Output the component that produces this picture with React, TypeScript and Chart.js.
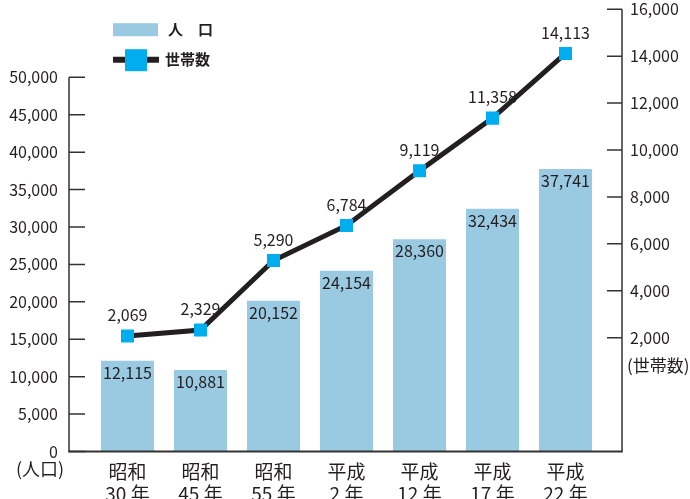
import React, { useEffect, useRef } from "react";
import { Chart, registerables } from "chart.js";

Chart.register(...registerables);

const categories: string[][] = [
  ["昭和", "30 年"],
  ["昭和", "45 年"],
  ["昭和", "55 年"],
  ["平成", "2 年"],
  ["平成", "12 年"],
  ["平成", "17 年"],
  ["平成", "22 年"],
];
const population = [12115, 10881, 20152, 24154, 28360, 32434, 37741];
const households = [2069, 2329, 5290, 6784, 9119, 11358, 14113];
const leftTicks = [0, 5000, 10000, 15000, 20000, 25000, 30000, 35000, 40000, 45000, 50000];
const rightTicks = [2000, 4000, 6000, 8000, 10000, 12000, 14000, 16000];
const seriesNames = ["人　口", "世帯数"];
const axisNames = ["(人口)", "(世帯数)"];

const FONT = "'Noto Sans CJK JP', 'Noto Sans', sans-serif";
const TEXT = "#231f20";
const AXIS = "#333333";
const BAR = "#99cae2";
const MARK = "#00aeef";
const LINE = "#231f20";

const fmt = (v: number) => v.toLocaleString("en-US");

const decorPlugin = {
  id: "decor",
  afterDatasetsDraw(chart: any) {
    const ctx = chart.ctx;
    ctx.save();
    ctx.fillStyle = TEXT;
    ctx.font = `16px ${FONT}`;
    ctx.textAlign = "center";
    ctx.textBaseline = "middle";
    const barMeta = chart.getDatasetMeta(0);
    barMeta.data.forEach((el: any, i: number) => {
      ctx.fillText(fmt(population[i]), el.x, el.y + 12);
    });
    const lineMeta = chart.getDatasetMeta(1);
    lineMeta.data.forEach((el: any, i: number) => {
      ctx.fillText(fmt(households[i]), el.x, el.y - 21);
    });
    ctx.restore();
  },
  afterDraw(chart: any) {
    const ctx = chart.ctx;
    const area = chart.chartArea;
    const y = chart.scales.y;
    const y1 = chart.scales.y1;
    const lx = area.left - 22;
    const rx = area.right + 20;
    const bottom = area.bottom;
    ctx.save();
    ctx.strokeStyle = AXIS;
    // left axis
    ctx.lineWidth = 1.5;
    ctx.beginPath();
    ctx.moveTo(lx, y.getPixelForValue(leftTicks[leftTicks.length - 1]));
    ctx.lineTo(lx, bottom);
    leftTicks.forEach((v) => {
      const py = y.getPixelForValue(v);
      ctx.moveTo(lx, py);
      ctx.lineTo(lx + 16, py);
    });
    // right axis
    ctx.moveTo(rx, y1.getPixelForValue(rightTicks[rightTicks.length - 1]));
    ctx.lineTo(rx, bottom);
    rightTicks.forEach((v) => {
      const py = y1.getPixelForValue(v);
      ctx.moveTo(rx, py);
      ctx.lineTo(rx - 15, py);
    });
    ctx.stroke();
    // bottom axis
    ctx.lineWidth = 2;
    ctx.beginPath();
    ctx.moveTo(lx - 0.75, bottom);
    ctx.lineTo(rx + 0.75, bottom);
    ctx.stroke();

    // axis unit labels
    ctx.fillStyle = TEXT;
    ctx.textBaseline = "middle";
    ctx.font = `18px ${FONT}`;
    ctx.textAlign = "center";
    ctx.fillText(axisNames[0], 40, bottom + 18);
    ctx.font = `17px ${FONT}`;
    ctx.textAlign = "left";
    ctx.fillText(axisNames[1], rx + 5, y1.getPixelForValue(rightTicks[0]) + 28);

    // legend
    const gx = area.left + 22;
    ctx.fillStyle = BAR;
    ctx.fillRect(gx, area.top + 14, 45, 13);
    ctx.strokeStyle = LINE;
    ctx.lineWidth = 6;
    ctx.beginPath();
    ctx.moveTo(gx, area.top + 50.5);
    ctx.lineTo(gx + 46, area.top + 50.5);
    ctx.stroke();
    ctx.fillStyle = MARK;
    ctx.fillRect(gx + 12, area.top + 40, 22, 22);
    ctx.fillStyle = TEXT;
    ctx.font = `bold 15px ${FONT}`;
    ctx.textAlign = "left";
    ctx.fillText(seriesNames[0], gx + 55, area.top + 20.5);
    ctx.fillText(seriesNames[1], gx + 52, area.top + 50.5);
    ctx.restore();
  },
};

export default function App() {
  const ref = useRef<HTMLCanvasElement>(null);
  useEffect(() => {
    if (!ref.current) return;
    const chart = new Chart(ref.current, {
      type: "bar",
      data: {
        labels: categories,
        datasets: [
          {
            type: "bar",
            label: seriesNames[0],
            data: population,
            backgroundColor: BAR,
            borderWidth: 0,
            barPercentage: 0.726,
            categoryPercentage: 1,
            yAxisID: "y",
            order: 2,
          },
          {
            type: "line",
            label: seriesNames[1],
            data: households,
            borderColor: LINE,
            borderWidth: 5,
            pointStyle: "rect",
            pointRadius: 9.2,
            pointBackgroundColor: MARK,
            pointBorderWidth: 0,
            yAxisID: "y1",
            order: 1,
            tension: 0,
          } as any,
        ],
      },
      options: {
        animation: false,
        responsive: true,
        maintainAspectRatio: false,
        layout: { padding: { top: 8, left: 0, right: 0, bottom: 0 } },
        plugins: {
          legend: { display: false },
          tooltip: { enabled: false },
        },
        scales: {
          x: {
            offset: true,
            grid: { display: false, drawTicks: false },
            border: { display: false },
            ticks: {
              color: TEXT,
              font: { family: FONT, size: 19, lineHeight: 1.16 },
              padding: 9,
              maxRotation: 0,
              autoSkip: false,
            },
            afterFit(scale: any) {
              scale.height = 47.5;
              scale.paddingLeft = 0;
              scale.paddingRight = 0;
            },
          },
          y: {
            position: "left",
            min: 0,
            max: 59100,
            grid: { display: false, drawTicks: false },
            border: { display: false },
            afterBuildTicks(scale: any) {
              scale.ticks = leftTicks.map((v) => ({ value: v }));
            },
            ticks: {
              color: TEXT,
              font: { family: FONT, size: 16 },
              padding: 33,
              callback: (v: any) => fmt(Number(v)),
            },
            afterFit(scale: any) {
              scale.width = 91;
              scale.paddingTop = 0;
              scale.paddingBottom = 0;
            },
          },
          y1: {
            position: "right",
            min: -2850,
            max: 16000,
            grid: { display: false, drawTicks: false },
            border: { display: false },
            afterBuildTicks(scale: any) {
              scale.ticks = rightTicks.map((v) => ({ value: v }));
            },
            ticks: {
              color: TEXT,
              font: { family: FONT, size: 16 },
              padding: 28,
              callback: (v: any) => fmt(Number(v)),
            },
            afterFit(scale: any) {
              scale.width = 88;
              scale.paddingTop = 0;
              scale.paddingBottom = 0;
            },
          },
        },
      },
      plugins: [decorPlugin],
    });
    return () => chart.destroy();
  }, []);
  return (
    <div style={{ position: "absolute", left: 0, top: 0, width: 690, height: 499, background: "#fff" }}>
      <canvas ref={ref} />
    </div>
  );
}
